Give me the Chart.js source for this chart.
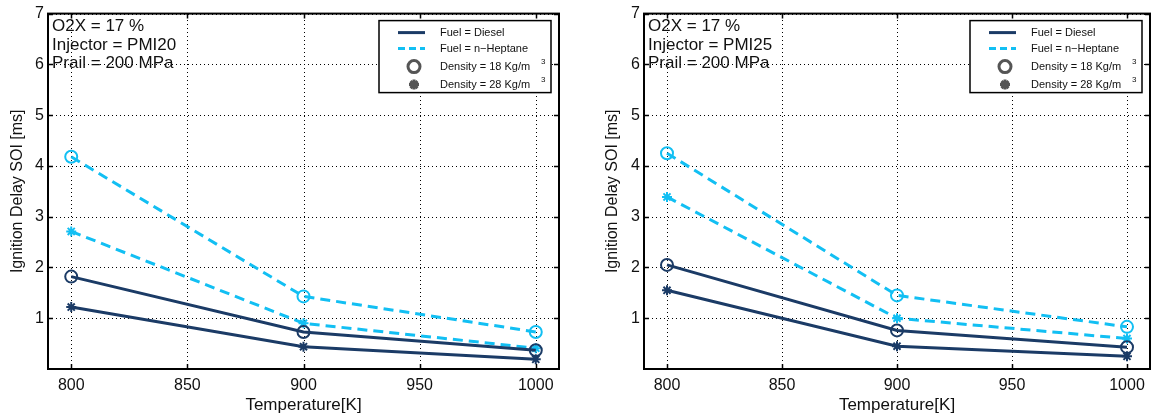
<!DOCTYPE html>
<html>
<head>
<meta charset="utf-8">
<script src="https://cdn.jsdelivr.net/npm/chart.js@4.4.1/dist/chart.umd.min.js"></script>
<style>
  html, body { margin: 0; padding: 0; background: #fff; }
  body { width: 1158px; height: 419px; position: relative; overflow: hidden; }
  .panel { position: absolute; top: 0; height: 419px; }
</style>
</head>
<body>
<div class="panel" style="left:0;width:580px"><canvas id="leftChart"></canvas></div>
<div class="panel" style="left:580px;width:578px"><canvas id="rightChart"></canvas></div>
<script>
// temperatures [K] and axis ticks
const TEMPS = [800, 900, 1000];
const X_TICKS = [800, 850, 900, 950, 1000];
const Y_TICKS = [1, 2, 3, 4, 5, 6, 7];

// ignition delay [ms], injector PMI20
const PMI20_DIESEL_18 = [1.82, 0.73, 0.37];
const PMI20_DIESEL_28 = [1.22, 0.44, 0.19];
const PMI20_HEPTANE_18 = [4.18, 1.43, 0.73];
const PMI20_HEPTANE_28 = [2.71, 0.90, 0.41];

// ignition delay [ms], injector PMI25
const PMI25_DIESEL_18 = [2.05, 0.76, 0.43];
const PMI25_DIESEL_28 = [1.55, 0.45, 0.25];
const PMI25_HEPTANE_18 = [4.25, 1.45, 0.83];
const PMI25_HEPTANE_28 = [3.39, 1.00, 0.60];

const NOTES_PMI20 = ["O2X = 17 %", "Injector = PMI20", "Prail = 200 MPa"];
const NOTES_PMI25 = ["O2X = 17 %", "Injector = PMI25", "Prail = 200 MPa"];
const LEGEND_LABELS = ["Fuel = Diesel", "Fuel = n\u2212Heptane", "Density = 18 Kg/m", "Density = 28 Kg/m"];

const DIESEL = "#1b3b66";
const HEPTANE = "#12bff3";
const FONT = "'Liberation Sans', Arial, sans-serif";

function series(vals) {
  return TEMPS.map((t, i) => ({ x: t, y: vals[i] }));
}

function line(label, vals, color, dashed, marker) {
  return {
    label: label,
    data: series(vals),
    borderColor: color,
    borderWidth: 3,
    borderDash: dashed ? [10, 6] : [],
    pointStyle: marker,
    pointRadius: marker === "circle" ? 6 : 5,
    pointBorderWidth: 2,
    pointBorderColor: color,
    pointBackgroundColor: "rgba(0,0,0,0)",
    tension: 0,
    fill: false
  };
}

// dotted grid under the lines
const dottedGrid = {
  id: "dottedGrid",
  beforeDatasetsDraw(chart) {
    const { ctx, chartArea: { left, top, right, bottom }, scales: { x, y } } = chart;
    ctx.save();
    ctx.strokeStyle = "#000";
    ctx.lineWidth = 1;
    ctx.setLineDash([1, 3]);
    ctx.beginPath();
    X_TICKS.forEach(v => {
      const px = Math.round(x.getPixelForValue(v)) + 0.5;
      ctx.moveTo(px, bottom); ctx.lineTo(px, top);
    });
    Y_TICKS.forEach(v => {
      const py = Math.round(y.getPixelForValue(v)) + 0.5;
      ctx.moveTo(left, py); ctx.lineTo(right, py);
    });
    ctx.stroke();
    ctx.restore();
  }
};

// axes box, inward ticks, text notes and legend (MATLAB style)
const decorations = {
  id: "decorations",
  afterDatasetsDraw(chart) {
    const { ctx, chartArea: { left, top, right, bottom }, scales: { x, y } } = chart;
    ctx.save();
    ctx.strokeStyle = "#000";
    ctx.lineWidth = 1.5;
    ctx.beginPath();
    X_TICKS.forEach(v => {
      const px = Math.round(x.getPixelForValue(v)) + 0.5;
      ctx.moveTo(px, bottom); ctx.lineTo(px, bottom - 5);
      ctx.moveTo(px, top); ctx.lineTo(px, top + 5);
    });
    Y_TICKS.forEach(v => {
      const py = Math.round(y.getPixelForValue(v)) + 0.5;
      ctx.moveTo(left, py); ctx.lineTo(left + 5, py);
      ctx.moveTo(right, py); ctx.lineTo(right - 5, py);
    });
    ctx.stroke();
    ctx.lineWidth = 2;
    ctx.strokeRect(left, top, right - left, bottom - top);

    // notes
    const notes = chart.options.plugins.decorations.notes;
    ctx.fillStyle = "#111";
    ctx.font = "17px " + FONT;
    ctx.textAlign = "left";
    ctx.textBaseline = "middle";
    notes.forEach((t, i) => ctx.fillText(t, left + 4, top + 13 + i * 18.5));

    // legend box
    const bw = 172, bh = 72;
    const bx = right - 8 - bw, by = top + 7;
    ctx.fillStyle = "#fff";
    ctx.fillRect(bx, by, bw, bh);
    ctx.lineWidth = 1.5;
    ctx.strokeStyle = "#000";
    ctx.strokeRect(bx, by, bw, bh);
    const rows = [12, 28, 46, 64];
    // line samples
    ctx.lineWidth = 3;
    ctx.strokeStyle = DIESEL;
    ctx.beginPath(); ctx.moveTo(bx + 19, by + rows[0]); ctx.lineTo(bx + 46, by + rows[0]); ctx.stroke();
    ctx.strokeStyle = HEPTANE;
    ctx.setLineDash([7, 4]);
    ctx.beginPath(); ctx.moveTo(bx + 19, by + rows[1]); ctx.lineTo(bx + 46, by + rows[1]); ctx.stroke();
    ctx.setLineDash([]);
    // marker samples
    ctx.strokeStyle = "#555";
    ctx.fillStyle = "rgba(0,0,0,0)";
    Chart.helpers.drawPoint(ctx, { pointStyle: "circle", radius: 6, rotation: 0, borderWidth: 2 }, bx + 35, by + rows[2]);
    ctx.strokeStyle = "#555";
    Chart.helpers.drawPoint(ctx, { pointStyle: "star", radius: 5, rotation: 0, borderWidth: 2 }, bx + 35, by + rows[3]);
    // labels
    ctx.fillStyle = "#111";
    ctx.font = "11px " + FONT;
    LEGEND_LABELS.forEach((t, i) => {
      ctx.fillText(t, bx + 61, by + rows[i]);
      if (i >= 2) {
        ctx.font = "8px " + FONT;
        ctx.fillText("3", bx + 162, by + rows[i] - 5);
        ctx.font = "11px " + FONT;
      }
    });
    ctx.restore();
  }
};

function makeChart(id, sets, notes, padLeft, yWidth, padRight) {
  return new Chart(document.getElementById(id), {
    type: "line",
    data: {
      datasets: [
        line("Diesel 18", sets[0], DIESEL, false, "circle"),
        line("Diesel 28", sets[1], DIESEL, false, "star"),
        line("n-Heptane 18", sets[2], HEPTANE, true, "circle"),
        line("n-Heptane 28", sets[3], HEPTANE, true, "star")
      ]
    },
    options: {
      responsive: true,
      maintainAspectRatio: false,
      animation: false,
      layout: { padding: { left: padLeft, right: padRight, top: 13, bottom: 3 } },
      scales: {
        x: {
          type: "linear",
          min: 790,
          max: 1010,
          afterBuildTicks: s => { s.ticks = X_TICKS.map(v => ({ value: v })); },
          afterFit: s => { s.height = 47; },
          ticks: { color: "#111", padding: 7, font: { family: FONT, size: 16 }, callback: v => String(v) },
          grid: { display: false, drawTicks: false },
          border: { display: false },
          title: { display: true, text: "Temperature[K]", color: "#111", padding: 0, font: { family: FONT, size: 17, lineHeight: 1.2 } }
        },
        y: {
          type: "linear",
          min: 0,
          max: 7,
          afterBuildTicks: s => { s.ticks = Y_TICKS.map(v => ({ value: v })); },
          afterFit: s => { s.width = yWidth; },
          ticks: { color: "#111", padding: 4, font: { family: FONT, size: 16 } },
          grid: { display: false, drawTicks: false },
          border: { display: false },
          title: { display: true, text: "Ignition Delay SOI [ms]", color: "#111", padding: 0, font: { family: FONT, size: 16, lineHeight: 1.2 } }
        }
      },
      plugins: {
        legend: { display: false },
        tooltip: { enabled: false },
        decorations: { notes: notes }
      }
    },
    plugins: [dottedGrid, decorations]
  });
}

makeChart("leftChart",
  [PMI20_DIESEL_18, PMI20_DIESEL_28, PMI20_HEPTANE_18, PMI20_HEPTANE_28],
  NOTES_PMI20, 8, 40, 21);
makeChart("rightChart",
  [PMI25_DIESEL_18, PMI25_DIESEL_28, PMI25_HEPTANE_18, PMI25_HEPTANE_28],
  NOTES_PMI25, 23, 41, 5);
</script>
</body>
</html>
